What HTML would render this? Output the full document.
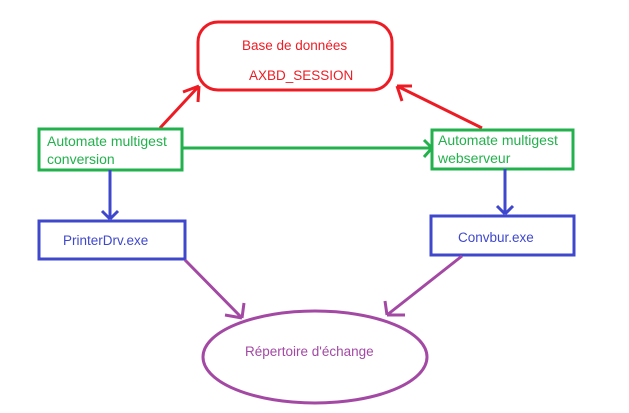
<!DOCTYPE html>
<html><head><meta charset="utf-8"><style>
html,body{margin:0;padding:0;background:#fff;}
svg{display:block;}
text{font-family:"Liberation Sans",sans-serif;font-size:13.5px;}
.g{font-size:14px;}
</style></head><body>
<svg width="629" height="413" viewBox="0 0 629 413" xmlns="http://www.w3.org/2000/svg">
<g fill="none" stroke-width="3">
<rect x="198" y="22" width="194" height="68" rx="20" stroke="#ed1c24"/>
<path d="M160 128 L199 86 M199 86 L183 92 M199 86 L198 102" stroke="#ed1c24"/>
<path d="M482 128 L397 86 M397 86 L412 86 M397 86 L402 101" stroke="#ed1c24"/>
<rect x="39" y="129" width="143" height="41" stroke="#22b14c"/>
<rect x="432" y="130" width="141" height="39" stroke="#22b14c"/>
<path d="M182 148 L432 148 M432 148 L424 140 M432 148 L424 157" stroke="#22b14c"/>
<rect x="39" y="221" width="146" height="38" stroke="#3f48cc"/>
<rect x="431" y="216" width="143" height="39" stroke="#3f48cc"/>
<path d="M110 170 L110 219 M110 219 L102 211 M110 219 L118 211" stroke="#3f48cc"/>
<path d="M505 169 L505 214 M505 214 L497 206 M505 214 L513 206" stroke="#3f48cc"/>
<ellipse cx="315" cy="357" rx="112" ry="46" stroke="#a349a4"/>
<path d="M185 260 L242 318 M242 318 L225 315 M242 318 L244 303" stroke="#a349a4"/>
<path d="M462 256 L387 315 M387 315 L385 301 M387 315 L405 315" stroke="#a349a4"/>
</g>
<text x="242" y="50" fill="#ed1c24">Base de données</text>
<text x="249" y="80" fill="#ed1c24">AXBD_SESSION</text>
<text class="g" x="47" y="146" fill="#22b14c">Automate multigest</text>
<text class="g" x="47" y="164" fill="#22b14c">conversion</text>
<text class="g" x="438" y="145" fill="#22b14c">Automate multigest</text>
<text class="g" x="438" y="163" fill="#22b14c">webserveur</text>
<text x="63" y="245" fill="#3f48cc">PrinterDrv.exe</text>
<text x="458" y="242" fill="#3f48cc">Convbur.exe</text>
<text x="245" y="356" fill="#a349a4">Répertoire d'échange</text>
</svg>
</body></html>
